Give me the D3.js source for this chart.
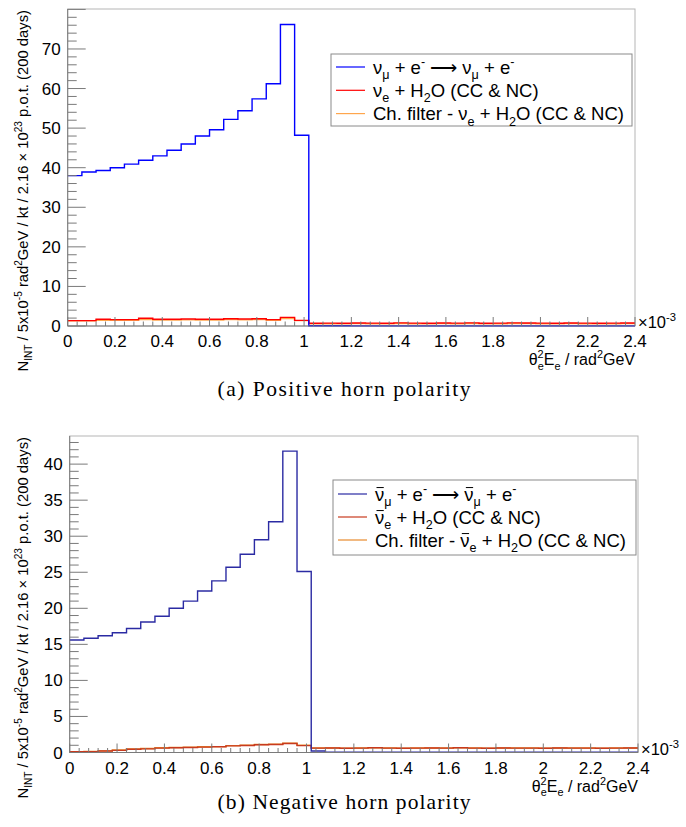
<!DOCTYPE html>
<html><head><meta charset="utf-8">
<script src="https://cdn.jsdelivr.net/npm/d3@7"></script>
<style>
body{margin:0;background:#fff}
svg text{font-family:"Liberation Sans",Arial,Helvetica,sans-serif;fill:#000}
</style>
</head><body>
<svg id="c" width="686" height="827"></svg>
<script>
// ---------------- DATA ----------------
const binWidth = 0.06;        // in units of 1e-3 rad^2 GeV
const nBins = 40;
const xTickValues = [0,0.2,0.4,0.6,0.8,1,1.2,1.4,1.6,1.8,2,2.2,2.4];
const xTickLabels = ["0","0.2","0.4","0.6","0.8","1","1.2","1.4","1.6","1.8","2","2.2","2.4"];
const yTicksPos = [0,10,20,30,40,50,60,70];
const yTicksNeg = [0,5,10,15,20,25,30,35,40];

// Positive horn polarity
const posNumuE = [38.0,38.9,39.3,40.0,40.9,41.9,43.0,44.4,46.0,48.0,49.6,52.2,54.4,57.4,61.2,76.2,48.2,
  0.08,0.08,0.08,0.02,0.02,0.02,0.02,0.02,0.02,0.02,0.02,0.02,0.02,0.02,0.02,0.02,0.02,0.02,0.02,0.02,0.02,0.02,0.02];
const posNueH2O = [1.35,1.35,1.69,1.6,1.6,1.94,1.69,1.69,1.77,1.69,1.69,1.85,1.77,1.85,1.6,2.19,1.43,
  0.7,0.72,0.7,0.75,0.72,0.7,0.8,0.72,0.7,0.75,0.72,0.78,0.7,0.72,0.8,0.75,0.72,0.7,0.75,0.72,0.7,0.72,0.75];
const posFilter = [1.3,1.3,1.45,1.42,1.45,1.6,1.5,1.5,1.55,1.5,1.5,1.6,1.55,1.6,1.45,1.9,1.35,
  0.55,0.58,0.55,0.6,0.58,0.55,0.62,0.58,0.55,0.6,0.58,0.62,0.55,0.58,0.65,0.6,0.58,0.55,0.6,0.58,0.55,0.58,0.6];

// Negative horn polarity
const negNumuE = [15.6,15.85,16.2,16.6,17.2,18.1,18.9,20.0,21.0,22.4,23.8,25.7,27.5,29.5,32.0,41.8,25.1,
  0.2,0.05,0.05,0.05,0.05,0.05,0.05,0.05,0.05,0.05,0.05,0.05,0.05,0.05,0.05,0.05,0.05,0.05,0.05,0.05,0.05,0.05,0.05];
const negNueH2O = [0.1,0.12,0.2,0.3,0.45,0.5,0.6,0.65,0.7,0.75,0.8,0.92,0.97,1.08,1.1,1.25,0.95,
  0.6,0.62,0.58,0.6,0.65,0.6,0.58,0.6,0.62,0.6,0.65,0.6,0.58,0.62,0.6,0.6,0.58,0.62,0.6,0.6,0.58,0.6,0.62];
const negFilter = [0.12,0.15,0.22,0.35,0.48,0.55,0.65,0.7,0.72,0.8,0.82,0.95,1.0,1.1,1.15,1.3,1.0,
  0.62,0.63,0.6,0.62,0.66,0.62,0.6,0.62,0.63,0.62,0.66,0.62,0.6,0.63,0.62,0.62,0.6,0.63,0.62,0.62,0.6,0.62,0.63];

const captions = ["(a) Positive horn polarity","(b) Negative horn polarity"];

// ---------------- DRAW ----------------
const svg = d3.select("#c");

function rich(sel, parts, size, barLayer){
  let cur = 0;
  const bars = [];
  parts.forEach(p=>{
    const ts = sel.append("tspan").text(p.t);
    const target = p.sub ? size*0.3 : (p.sup ? -size*0.42 : 0);
    if (target - cur !== 0) ts.attr("dy", target - cur);
    cur = target;
    if (p.sub || p.sup) ts.attr("font-size", size*0.68);
    if (p.big) ts.attr("font-size", size*p.big).style("font-family","'DejaVu Sans',sans-serif").style("font-weight","200");
    if (p.dx) ts.attr("dx", p.dx);
    if (p.bar) bars.push(ts.node());
  });
  bars.forEach(n=>{
    const s = n.getStartPositionOfChar(0), e = n.getEndPositionOfChar(0);
    barLayer.append("line").attr("x1",s.x+1.5).attr("x2",e.x-0.5)
      .attr("y1",s.y-size*0.7).attr("y2",s.y-size*0.7).attr("stroke","#000").attr("stroke-width",1);
  });
}

function panel(cfg){
  const g = svg.append("g");
  const x = d3.scaleLinear().domain([0, 2.4]).range([cfg.x0, cfg.x1]);
  const y = d3.scaleLinear().domain([0, cfg.yMax]).range([cfg.yB, cfg.yT]);
  const axisCol = "#7a7a7a";

  // frame
  g.append("rect").attr("x",cfg.x0).attr("y",cfg.yT).attr("width",cfg.x1-cfg.x0).attr("height",cfg.yB-cfg.yT)
    .attr("fill","none").attr("stroke","#b5b5b5").attr("stroke-width",1);

  // histograms
  const line = d3.line().x(d=>x(d[0])).y(d=>y(Math.max(0,d[1]))).curve(d3.curveStepAfter);
  cfg.series.forEach(s=>{
    const pts = s.values.map((v,i)=>[i*binWidth, v]);
    pts.push([nBins*binWidth, s.values[nBins-1]]);
    g.append("path").attr("d", line(pts)).attr("fill","none").attr("stroke", s.color).attr("stroke-width",1.4);
  });

  // x axis
  const xMinor = d3.range(0, 61).map(i=>i*0.04);
  g.selectAll(".xm").data(xMinor).enter().append("line")
    .attr("x1",d=>x(d)).attr("x2",d=>x(d)).attr("y1",cfg.yB).attr("y2",(d,i)=> i%5===0 ? cfg.yB-9 : cfg.yB-4.5)
    .attr("stroke",axisCol).attr("stroke-width",1);
  g.append("line").attr("x1",cfg.x0).attr("x2",cfg.x1).attr("y1",cfg.yB).attr("y2",cfg.yB).attr("stroke",axisCol);
  g.selectAll(".xl").data(xTickValues).enter().append("text")
    .attr("x",d=>x(d)).attr("y",cfg.yB+21).attr("text-anchor","middle").attr("font-size",17)
    .text((d,i)=>xTickLabels[i]);
  const e3 = g.append("text").attr("x",cfg.x1+3).attr("y",cfg.yB+2).attr("font-size",16.5);
  rich(e3,[{t:"×10"},{t:"-3",sup:true}],16.5,g);
  const xt = g.append("text").attr("x",cfg.x1).attr("y",cfg.yB+39).attr("text-anchor","end").attr("font-size",16);
  rich(xt,[{t:"θ"},{t:"2",sup:true},{t:"e",sub:true,dx:-6},{t:"E"},{t:"e",sub:true},{t:" / rad"},{t:"2",sup:true},{t:"GeV"}],16,g);

  // y axis
  const yStep = cfg.yTicks[1]-cfg.yTicks[0];
  const yMinor = d3.range(0, Math.floor(cfg.yMax/(yStep/5))+1).map(i=>i*yStep/5).filter(v=>v<=cfg.yMax);
  g.selectAll(".ym").data(yMinor).enter().append("line")
    .attr("x1",cfg.x0).attr("x2",(d,i)=> i%5===0 ? cfg.x0+18 : cfg.x0+9)
    .attr("y1",d=>y(d)).attr("y2",d=>y(d)).attr("stroke",axisCol).attr("stroke-width",1);
  g.append("line").attr("x1",cfg.x0).attr("x2",cfg.x0).attr("y1",cfg.yB).attr("y2",cfg.yT).attr("stroke",axisCol);
  g.selectAll(".yl").data(cfg.yTicks).enter().append("text")
    .attr("x",cfg.x0-7).attr("y",d=>y(d)+6).attr("text-anchor","end").attr("font-size",17).text(d=>d);
  const yt = g.append("text").attr("transform",`translate(${cfg.yTitleX},${cfg.yT+1}) rotate(-90)`)
    .attr("text-anchor","end").attr("font-size",14.8);
  rich(yt,[{t:"N"},{t:"INT",sub:true},{t:" / 5x10"},{t:"-5",sup:true},{t:" rad"},{t:"2",sup:true},
    {t:"GeV / kt / 2.16 × 10"},{t:"23",sup:true},{t:" p.o.t. (200 days)"}],14.8,g);

  // legend
  const L = cfg.legend;
  g.append("rect").attr("x",L.x).attr("y",L.y).attr("width",L.w).attr("height",L.h)
    .attr("fill","#fff").attr("stroke","#8a8a8a").attr("stroke-width",1);
  L.rows.forEach((r,i)=>{
    const cy = L.row0 + i*L.dy;
    g.append("line").attr("x1",L.x+5).attr("x2",L.x+34).attr("y1",cy).attr("y2",cy)
      .attr("stroke",cfg.series[cfg.series.length-1-i].color).attr("stroke-width",1.2);
    const t = g.append("text").attr("x",L.x+42).attr("y",cy+6.5).attr("font-size",18.5);
    rich(t, r, 18.5, g);
  });

  // caption
  svg.append("text").attr("x",344).attr("y",cfg.capY).attr("text-anchor","middle")
    .style("font-family","'Liberation Serif','Times New Roman',serif").attr("font-size",21.5)
    .attr("textLength",253).attr("lengthAdjust","spacing")
    .text(cfg.caption);
}

const nm = (bar)=>[{t:"ν",bar:bar},{t:"μ",sub:true},{t:" + e"},{t:"-",sup:true},{t:" "},{t:"⟶",big:1.0},{t:" "},{t:"ν",bar:bar},{t:"μ",sub:true},{t:" + e"},{t:"-",sup:true}];
const ne = (bar)=>[{t:"ν",bar:bar},{t:"e",sub:true},{t:" + H"},{t:"2",sub:true},{t:"O (CC & NC)"}];
const nf = (bar)=>[{t:"Ch. filter - "},{t:"ν",bar:bar},{t:"e",sub:true},{t:" + H"},{t:"2",sub:true},{t:"O (CC & NC)"}];

panel({
  x0:67.7, x1:635, yT:9, yB:326, yMax:80.1, yTicks:yTicksPos, yTitleX:28, capY:396,
  caption: captions[0],
  series:[{values:posFilter,color:"#ffa64d"},{values:posNueH2O,color:"#ff0000"},{values:posNumuE,color:"#0000ff"}],
  legend:{x:331,y:54,w:301,h:72,row0:67,dy:23.3,rows:[nm(false),ne(false),nf(false)]}
});
panel({
  x0:69.7, x1:638, yT:436, yB:752.5, yMax:43.9, yTicks:yTicksNeg, yTitleX:28, capY:809,
  caption: captions[1],
  series:[{values:negFilter,color:"#e88a2c"},{values:negNueH2O,color:"#c83a1e"},{values:negNumuE,color:"#2b2ba3"}],
  legend:{x:333,y:480,w:303,h:75,row0:494,dy:23,rows:[nm(true),ne(true),nf(true)]}
});
</script>
</body></html>
